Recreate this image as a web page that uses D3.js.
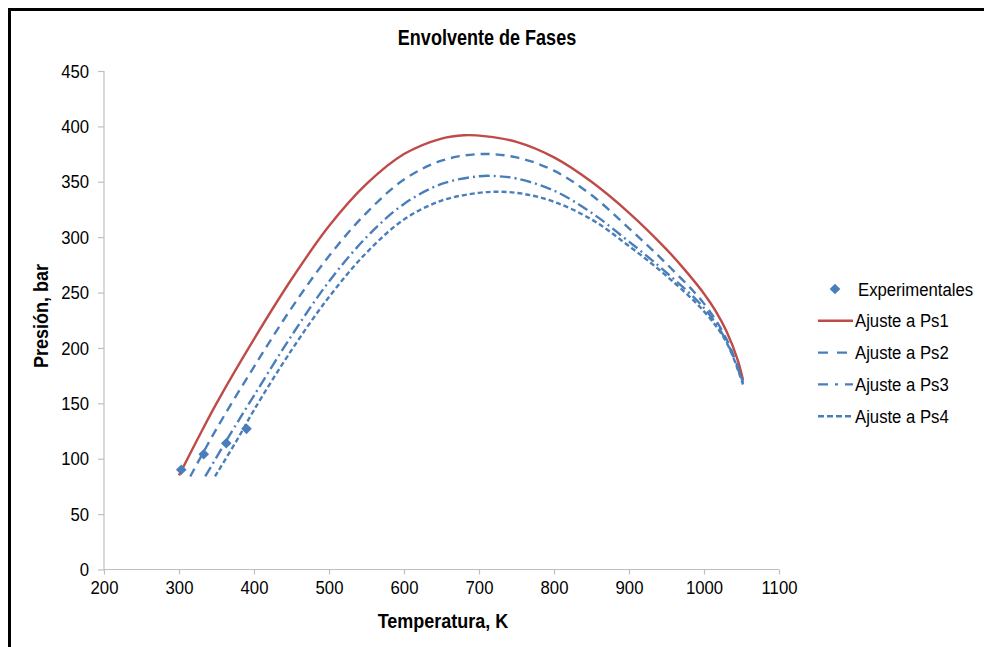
<!DOCTYPE html>
<html>
<head>
<meta charset="utf-8">
<script src="https://cdn.jsdelivr.net/npm/d3@7"></script>
<style>
  body { margin: 0; background: #fff; }
  text { font-family: "Liberation Sans Narrow", "Arial Narrow", "Liberation Sans", Arial, sans-serif; fill: #000; }
</style>
</head>
<body>
<div id="chart"></div>
<script>
// Experimental points (T in K, P in bar)
const expT = [303, 333, 363, 390];
const expP = [90, 104, 114, 127];

// Fitted envelopes
const ps1T = [300, 325, 350, 400, 450, 500, 550, 600, 650, 680, 710, 750, 800, 850, 900, 950, 975, 1000, 1015, 1030, 1045, 1052];
const ps1P = [85, 118, 150, 208, 262, 310, 348, 375, 389, 392, 391, 386, 372, 350, 322, 289, 270, 249, 234, 215, 189, 171];

const ps2T = [315, 350, 400, 450, 500, 550, 600, 650, 700, 750, 800, 850, 900, 950, 1000, 1030, 1052];
const ps2P = [84, 127, 183, 236, 283, 322, 352, 369, 375, 372, 360, 338, 308, 276, 240, 208, 169];

const ps3T = [335, 370, 400, 450, 500, 550, 600, 650, 700, 725, 750, 800, 850, 900, 950, 1000, 1030, 1052];
const ps3P = [84, 124, 157, 211, 260, 300, 330, 348, 355, 355, 353, 342, 322, 296, 268, 236, 206, 168];

const ps4T = [348, 380, 400, 450, 500, 550, 600, 650, 700, 730, 760, 800, 850, 900, 950, 1000, 1030, 1052];
const ps4P = [84, 120, 144, 198, 246, 286, 316, 333, 340, 341, 339, 332, 316, 292, 265, 233, 205, 167];

const xTicks = [200, 300, 400, 500, 600, 700, 800, 900, 1000, 1100];
const yTicks = [0, 50, 100, 150, 200, 250, 300, 350, 400, 450];

const seriesNames = ["Experimentales", "Ajuste a Ps1", "Ajuste a Ps2", "Ajuste a Ps3", "Ajuste a Ps4"];

const width = 984, height = 647;
const red = "#be4b48", blue = "#4a7ebb";

// squeeze text horizontally to imitate a narrow face
function narrow(sel, k) {
  sel.each(function() {
    const t = d3.select(this);
    const x0 = +(t.attr("x") || 0);
    t.attr("x", x0 / k).attr("transform", `scale(${k},1)`);
  });
}

const svg = d3.select("#chart").append("svg")
    .attr("width", width)
    .attr("height", height);

// outer frame (only top and left show)
svg.append("rect")
    .attr("x", 9.5).attr("y", 9.5)
    .attr("width", 1000).attr("height", 700)
    .attr("fill", "none")
    .attr("stroke", "#000")
    .attr("stroke-width", 3);

const x = d3.scaleLinear().domain([200, 1100]).range([104, 779]);
const y = d3.scaleLinear().domain([0, 450]).range([569.5, 71]);

// axes
const xAxis = svg.append("g")
    .attr("transform", `translate(0,${y(0)})`)
    .call(d3.axisBottom(x).tickValues(xTicks).tickFormat(d3.format("d")).tickSize(5).tickPadding(6));
const yAxis = svg.append("g")
    .attr("transform", `translate(${x(200)},0)`)
    .call(d3.axisLeft(y).tickValues(yTicks).tickFormat(d3.format("d")).tickSize(6).tickPadding(9));

[xAxis, yAxis].forEach(a => {
  a.selectAll("path, line").attr("stroke", "#bfbfbf").attr("stroke-width", 1.2);
  a.selectAll("text").style("font-size", "19px").attr("fill", "#000").call(narrow, 0.88);
});
xAxis.select(".domain").attr("d", `M${x(200)},0H${x(1100)}`);
yAxis.select(".domain").attr("d", `M0,${y(450)}V${y(0)}`);

// curves
const line = d3.line()
    .x(d => x(d[0]))
    .y(d => y(d[1]))
    .curve(d3.curveCatmullRom.alpha(0.5));

const fits = [
  {T: ps1T, P: ps1P, color: red, dash: null},
  {T: ps2T, P: ps2P, color: blue, dash: "9,6"},
  {T: ps3T, P: ps3P, color: blue, dash: "11,4,2,4"},
  {T: ps4T, P: ps4P, color: blue, dash: "5,3"}
];

fits.forEach(f => {
  svg.append("path")
      .datum(f.T.map((t, i) => [t, f.P[i]]))
      .attr("d", line)
      .attr("fill", "none")
      .attr("stroke", f.color)
      .attr("stroke-width", 2.4)
      .attr("stroke-dasharray", f.dash);
});

// experimental diamonds
const diamond = d3.symbol().type(d3.symbolDiamond2).size(72);
svg.selectAll(".exp")
    .data(expT.map((t, i) => [t, expP[i]]))
    .join("path")
    .attr("class", "exp")
    .attr("d", diamond)
    .attr("transform", d => `translate(${x(d[0])},${y(d[1])})`)
    .attr("fill", blue);

// title + axis titles
svg.append("g").attr("transform", "translate(487,45)")
  .append("text")
    .attr("text-anchor", "middle")
    .style("font-size", "22px").style("font-weight", "bold")
    .text("Envolvente de Fases")
    .call(narrow, 0.82);

svg.append("g").attr("transform", "translate(443,628)")
  .append("text")
    .attr("text-anchor", "middle")
    .style("font-size", "20px").style("font-weight", "bold")
    .text("Temperatura, K")
    .call(narrow, 0.9);

svg.append("g").attr("transform", "translate(48,316) rotate(-90)")
  .append("text")
    .attr("text-anchor", "middle")
    .style("font-size", "20px").style("font-weight", "bold")
    .text("Presión, bar")
    .call(narrow, 0.9);

// legend
const legend = svg.append("g").attr("transform", "translate(818,289)");
seriesNames.forEach((name, i) => {
  const row = legend.append("g").attr("transform", `translate(0,${i * 31.8})`);
  if (i === 0) {
    row.append("path")
        .attr("d", diamond)
        .attr("transform", "translate(17,0)")
        .attr("fill", blue);
  } else {
    const f = fits[i - 1];
    const legDash = [null, "10,9", "10,7,3,7", "6,3"][i - 1];
    row.append("line")
        .attr("x1", 0).attr("x2", 35)
        .attr("stroke", f.color)
        .attr("stroke-width", 2.4)
        .attr("stroke-dasharray", legDash);
  }
  row.append("text")
      .attr("x", i === 0 ? 40 : 37)
      .attr("y", 6.5)
      .style("font-size", "19px")
      .text(name)
      .call(narrow, 0.88);
});
</script>
</body>
</html>
